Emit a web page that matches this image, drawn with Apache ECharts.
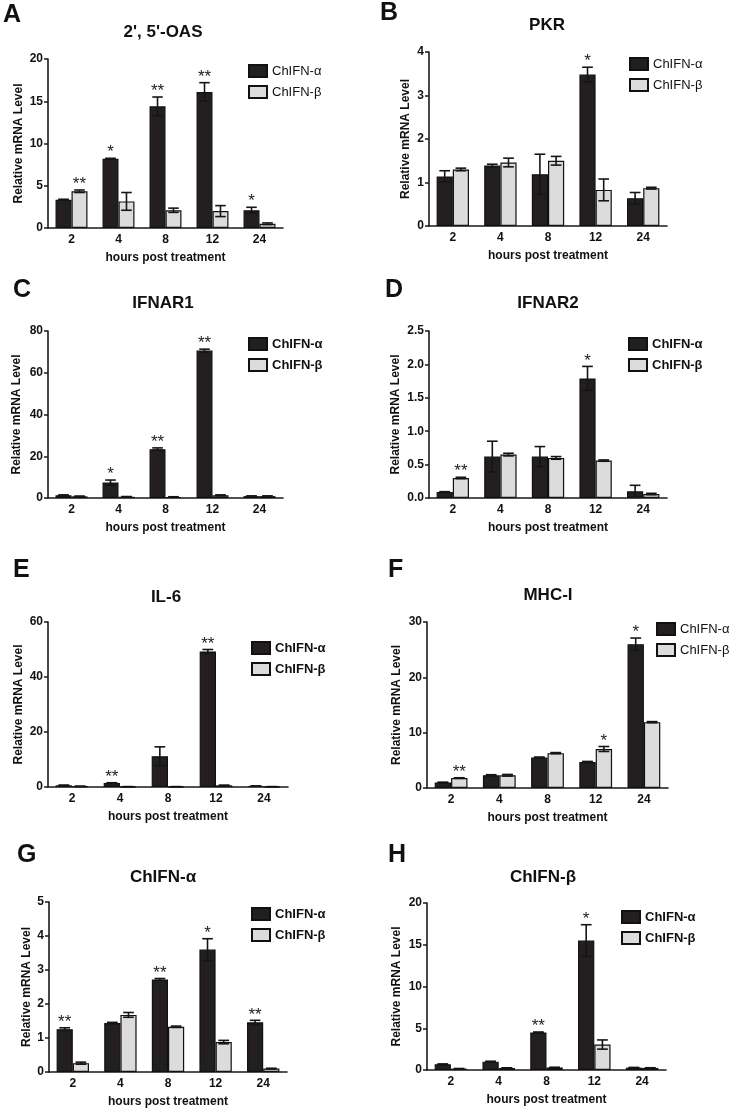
<!DOCTYPE html>
<html><head><meta charset="utf-8">
<script src="https://cdn.jsdelivr.net/npm/echarts@6/dist/echarts.min.js"></script>
<style>html,body{margin:0;padding:0;background:#fff}#c{width:739px;height:1114px}</style>
</head><body><div id="c"></div>
<script>
const categories = ['2', '4', '8', '12', '24'];
const seriesNames = ['ChIFN-α', 'ChIFN-β'];
const panelTitles = ["2', 5'-OAS", 'PKR', 'IFNAR1', 'IFNAR2', 'IL-6', 'MHC-I', 'ChIFN-α', 'ChIFN-β'];
const panelLetters = ['A', 'B', 'C', 'D', 'E', 'F', 'G', 'H'];
const yMax = [20, 4, 80, 2.5, 60, 30, 5, 20];
const yStep = [5, 1, 20, 0.5, 20, 10, 1, 5];
const yDecimals = [0, 0, 0, 1, 0, 0, 0, 0];

// A: 2',5'-OAS
const oasAlpha = [3.35, 8.2, 14.4, 16.1, 2.1];
const oasAlphaErr = [0.05, 0.05, 1.1, 1.1, 0.35];
const oasBeta = [4.35, 3.15, 2.1, 2.0, 0.5];
const oasBetaErr = [0.15, 1.05, 0.25, 0.65, 0.1];
const oasAlphaStars = ['', '*', '**', '**', '*'];
const oasBetaStars = ['**', '', '', '', ''];
// B: PKR
const pkrAlpha = [1.14, 1.39, 1.19, 3.48, 0.64];
const pkrAlphaErr = [0.13, 0.03, 0.46, 0.17, 0.13];
const pkrBeta = [1.30, 1.46, 1.50, 0.83, 0.87];
const pkrBetaErr = [0.03, 0.10, 0.10, 0.25, 0.02];
const pkrAlphaStars = ['', '', '', '*', ''];
const pkrBetaStars = ['', '', '', '', ''];
// C: IFNAR1
const ifnar1Alpha = [1.3, 7.4, 23.4, 70.6, 0.9];
const ifnar1AlphaErr = [0.2, 1.2, 0.6, 0.7, 0.1];
const ifnar1Beta = [0.8, 0.6, 0.5, 1.3, 0.9];
const ifnar1BetaErr = [0.1, 0.1, 0.1, 0.2, 0.1];
const ifnar1AlphaStars = ['', '*', '**', '**', ''];
const ifnar1BetaStars = ['', '', '', '', ''];
// D: IFNAR2
const ifnar2Alpha = [0.09, 0.62, 0.62, 1.79, 0.10];
const ifnar2AlphaErr = [0.005, 0.23, 0.15, 0.18, 0.09];
const ifnar2Beta = [0.30, 0.65, 0.60, 0.56, 0.06];
const ifnar2BetaErr = [0.01, 0.02, 0.02, 0.01, 0.01];
const ifnar2AlphaStars = ['', '', '', '*', ''];
const ifnar2BetaStars = ['**', '', '', '', ''];
// E: IL-6
const il6Alpha = [0.6, 1.45, 11.2, 49.3, 0.35];
const il6AlphaErr = [0.1, 0.1, 3.4, 0.7, 0.05];
const il6Beta = [0.25, 0.1, 0.1, 0.6, 0.1];
const il6BetaErr = [0.05, 0.05, 0.05, 0.05, 0.05];
const il6AlphaStars = ['', '**', '', '**', ''];
const il6BetaStars = ['', '', '', '', ''];
// F: MHC-I
const mhcAlpha = [1.0, 2.3, 5.5, 4.7, 26.0];
const mhcAlphaErr = [0.05, 0.1, 0.1, 0.1, 1.1];
const mhcBeta = [1.8, 2.3, 6.3, 7.05, 11.9];
const mhcBetaErr = [0.05, 0.15, 0.1, 0.45, 0.1];
const mhcAlphaStars = ['', '', '', '', '*'];
const mhcBetaStars = ['**', '', '', '*', ''];
// G: ChIFN-α
const chifnaAlpha = [1.26, 1.44, 2.72, 3.60, 1.46];
const chifnaAlphaErr = [0.04, 0.02, 0.03, 0.32, 0.06];
const chifnaBeta = [0.26, 1.68, 1.33, 0.88, 0.10];
const chifnaBetaErr = [0.03, 0.07, 0.02, 0.05, 0.01];
const chifnaAlphaStars = ['**', '', '**', '*', '**'];
const chifnaBetaStars = ['', '', '', '', ''];
// H: ChIFN-β
const chifnbAlpha = [0.68, 1.0, 4.5, 15.5, 0.28];
const chifnbAlphaErr = [0.05, 0.05, 0.05, 1.9, 0.03];
const chifnbBeta = [0.16, 0.24, 0.30, 3.05, 0.25];
const chifnbBetaErr = [0.02, 0.02, 0.02, 0.55, 0.02];
const chifnbAlphaStars = ['', '', '**', '*', ''];
const chifnbBetaStars = ['', '', '', '', ''];

const panels = [
  [oasAlpha, oasAlphaErr, oasBeta, oasBetaErr, oasAlphaStars, oasBetaStars],
  [pkrAlpha, pkrAlphaErr, pkrBeta, pkrBetaErr, pkrAlphaStars, pkrBetaStars],
  [ifnar1Alpha, ifnar1AlphaErr, ifnar1Beta, ifnar1BetaErr, ifnar1AlphaStars, ifnar1BetaStars],
  [ifnar2Alpha, ifnar2AlphaErr, ifnar2Beta, ifnar2BetaErr, ifnar2AlphaStars, ifnar2BetaStars],
  [il6Alpha, il6AlphaErr, il6Beta, il6BetaErr, il6AlphaStars, il6BetaStars],
  [mhcAlpha, mhcAlphaErr, mhcBeta, mhcBetaErr, mhcAlphaStars, mhcBetaStars],
  [chifnaAlpha, chifnaAlphaErr, chifnaBeta, chifnaBetaErr, chifnaAlphaStars, chifnaBetaStars],
  [chifnbAlpha, chifnbAlphaErr, chifnbBeta, chifnbBetaErr, chifnbAlphaStars, chifnbBetaStars]
];

// ---- layout (positions / styles) ----
const FONT = 'Liberation Sans, Arial, Helvetica, sans-serif';
const gridBoxes = [
  [48, 59, 235, 169], [429, 52, 238, 174],
  [48, 331, 235, 167], [429, 331, 238, 167],
  [48, 622, 240, 165], [427, 622, 241, 166],
  [49, 902, 238, 170], [427, 903, 239, 167]
];
const titleCenters = [[163, 32], [547, 25], [163, 303], [548, 303], [166, 597], [548, 595], [163, 877], [543, 877]];
const letterPos = [[3, 5], [380, 3], [13, 280], [385, 280], [13, 560], [388, 560], [17, 845], [388, 845]];
const legendPos = [[248, 71, 'normal'], [629, 64, 'normal'], [248, 344, 'bold'], [628, 344, 'bold'],
  [251, 648, 'bold'], [656, 629, 'normal'], [251, 914, 'bold'], [621, 917, 'bold']];
const yNameGap = [23, 17, 25, 27, 23, 24, 16, 24];
const CAT_GAP = 0.32;
const DARK = '#231f20';
const LIGHT = '#dcdcdc';

const option = {
  animation: false,
  backgroundColor: '#fff',
  textStyle: { fontFamily: FONT },
  title: [], legend: [], grid: [], xAxis: [], yAxis: [], series: []
};

panels.forEach((p, i) => {
  const g = gridBoxes[i];
  option.grid.push({ left: g[0], top: g[1], width: g[2], height: g[3], containLabel: false });
  option.title.push({
    text: panelTitles[i], left: titleCenters[i][0], top: titleCenters[i][1] - 8, textAlign: 'center', padding: 0,
    textStyle: { fontFamily: FONT, fontSize: 17, fontWeight: 'bold', color: '#111' }
  });
  option.title.push({
    text: panelLetters[i], left: letterPos[i][0], top: letterPos[i][1] - 2, padding: 0,
    textStyle: { fontFamily: FONT, fontSize: 25, fontWeight: 'bold', color: '#111' }
  });
  option.legend.push({
    data: seriesNames, orient: 'vertical', left: legendPos[i][0], top: legendPos[i][1] - 7, padding: 0,
    icon: 'rect', itemWidth: 18, itemHeight: 12, itemGap: 7, selectedMode: false,
    textStyle: { fontFamily: FONT, fontSize: 13, fontWeight: legendPos[i][2], color: '#111', lineHeight: 14 }
  });
  option.xAxis.push({
    type: 'category', gridIndex: i, data: categories,
    name: 'hours post treatment', nameLocation: 'middle', nameGap: 24,
    nameTextStyle: { fontFamily: FONT, fontSize: 12, fontWeight: 'bold', color: '#111' },
    axisLine: { lineStyle: { color: '#1a1a1a', width: 1.6 } },
    axisTick: { alignWithLabel: true, length: 4, lineStyle: { color: '#1a1a1a', width: 1.5 } },
    axisLabel: { fontFamily: FONT, fontSize: 12, fontWeight: 'bold', color: '#111', margin: 6 },
    splitLine: { show: false }
  });
  option.yAxis.push({
    type: 'value', gridIndex: i, min: 0, max: yMax[i], interval: yStep[i],
    name: 'Relative mRNA Level', nameLocation: 'middle', nameGap: yNameGap[i],
    nameTextStyle: { fontFamily: FONT, fontSize: 12, fontWeight: 'bold', color: '#111' },
    axisLine: { show: true, lineStyle: { color: '#1a1a1a', width: 1.6 } },
    axisTick: { show: true, length: 4, lineStyle: { color: '#1a1a1a', width: 1.5 } },
    axisLabel: { fontFamily: FONT, fontSize: 12, fontWeight: 'bold', color: '#111', margin: 5,
      formatter: v => v.toFixed(yDecimals[i]) },
    splitLine: { show: false }
  });
  const [a, ae, b, be, sa, sb] = p;
  option.series.push({
    name: seriesNames[0], type: 'bar', xAxisIndex: i, yAxisIndex: i, data: a,
    barGap: '0%', barCategoryGap: (CAT_GAP * 100) + '%',
    itemStyle: { color: DARK, borderColor: '#111', borderWidth: 1.2 }
  });
  option.series.push({
    name: seriesNames[1], type: 'bar', xAxisIndex: i, yAxisIndex: i, data: b,
    barGap: '0%', barCategoryGap: (CAT_GAP * 100) + '%',
    itemStyle: { color: LIGHT, borderColor: '#111', borderWidth: 1.2 }
  });
  const errData = [];
  const starText = [];
  categories.forEach((c, k) => {
    errData.push([k, a[k], ae[k], 0]); starText.push(sa[k]);
    errData.push([k, b[k], be[k], 1]); starText.push(sb[k]);
  });
  option.series.push({
    type: 'custom', xAxisIndex: i, yAxisIndex: i, z: 5, silent: true,
    data: errData,
    encode: { x: 0, y: 1 },
    renderItem: (params, api) => {
      const k = api.value(0), v = api.value(1), e = api.value(2), side = api.value(3);
      const band = api.size([1, 0])[0];
      const bw = band * (1 - CAT_GAP) / 2;
      const base = api.coord([k, v]);
      const cx = base[0] + (side === 0 ? -bw / 2 : bw / 2);
      const top = api.coord([k, v + e])[1];
      const bot = api.coord([k, Math.max(0, v - e)])[1];
      const hw = bw * 0.33;
      const ls = { stroke: '#151515', lineWidth: 1.6 };
      const children = [
        { type: 'line', shape: { x1: cx, y1: top, x2: cx, y2: bot }, style: ls },
        { type: 'line', shape: { x1: cx - hw, y1: top, x2: cx + hw, y2: top }, style: ls },
        { type: 'line', shape: { x1: cx - hw, y1: bot, x2: cx + hw, y2: bot }, style: ls }
      ];
      const s = starText[params.dataIndex];
      if (s) {
        children.push({ type: 'text', style: { text: s, x: cx, y: top - 5.5, align: 'center', verticalAlign: 'middle',
          font: '17px ' + FONT, fill: '#222' } });
      }
      return { type: 'group', children };
    }
  });
});

const chart = echarts.init(document.getElementById('c'), null, { renderer: 'canvas' });
chart.setOption(option);
</script>
</body></html>
